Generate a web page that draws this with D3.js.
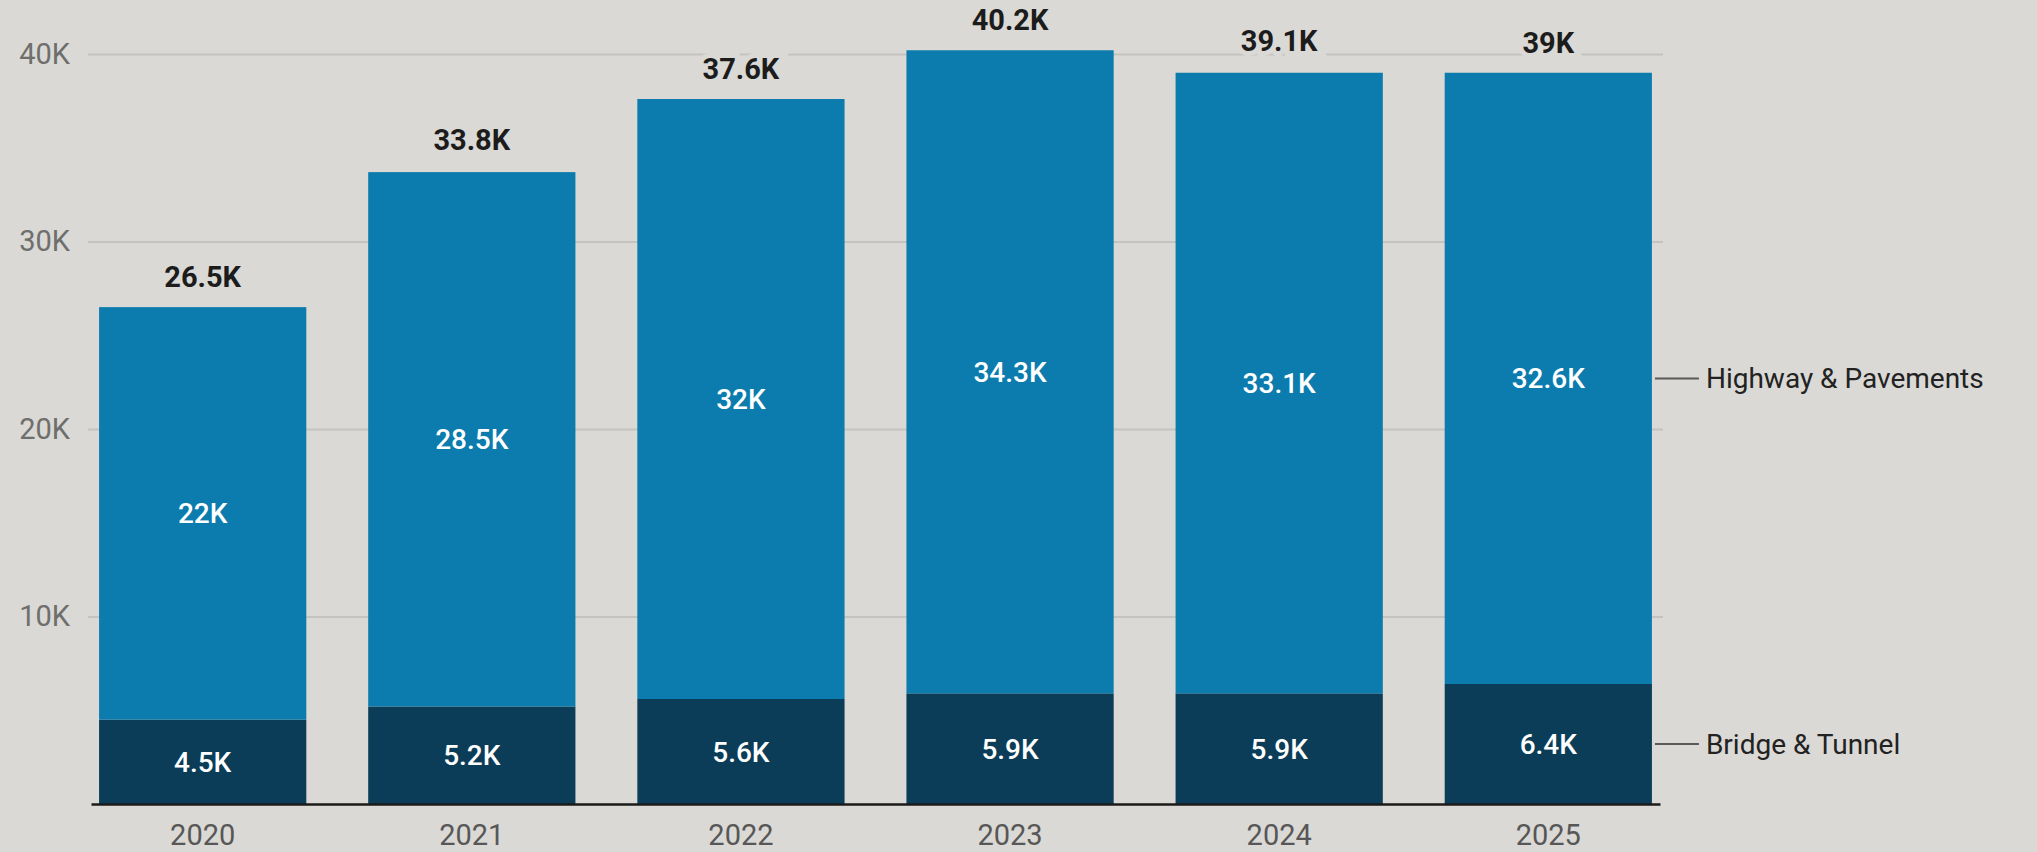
<!DOCTYPE html>
<html>
<head>
<meta charset="utf-8">
<script src="https://cdn.jsdelivr.net/npm/d3@7"></script>
<style>
    body { margin: 0; background: #dad9d5; }
    #wrapper text { font-family: Roboto, "Noto Sans", sans-serif; }
</style>
</head>
<body>
<div id="wrapper"></div>
<script>
// values, in thousands
const years = ["2020", "2021", "2022", "2023", "2024", "2025"];
const bridgeTunnel = [4.5, 5.2, 5.6, 5.9, 5.9, 6.4];
const highwayPavements = [22, 28.5, 32, 34.3, 33.1, 32.6];
const totals = [26.5, 33.8, 37.6, 40.2, 39.1, 39];
const seriesNames = ["Bridge & Tunnel", "Highway & Pavements"];
const yTicks = [10, 20, 30, 40];

function drawChart() {
    // 1. Data

    const data = years.map((year, i) => ({
        year,
        "Bridge & Tunnel": bridgeTunnel[i],
        "Highway & Pavements": highwayPavements[i],
        total: totals[i]
    }));
    const stacked = d3.stack().keys(seriesNames)(data);

    // 2. Dimensions

    const dimensions = {
        width: 2037,
        height: 852,
        margin: { top: 54, right: 377, bottom: 48, left: 91 }
    };
    dimensions.boundedWidth = dimensions.width
        - dimensions.margin.left
        - dimensions.margin.right;
    dimensions.boundedHeight = dimensions.height
        - dimensions.margin.top
        - dimensions.margin.bottom;

    // 3. Canvas

    const wrapper = d3.select("#wrapper")
        .append("svg")
        .attr("width", dimensions.width)
        .attr("height", dimensions.height);

    wrapper.append("rect")
        .attr("width", dimensions.width)
        .attr("height", dimensions.height)
        .attr("fill", "#dad9d5");

    const bounds = wrapper.append("g")
        .attr("transform", `translate(${dimensions.margin.left},${dimensions.margin.top})`);

    // 4. Scales

    const xScale = d3.scaleBand()
        .domain(years)
        .range([0, dimensions.boundedWidth])
        .paddingInner(0.23)
        .paddingOuter(0.03);

    const yScale = d3.scaleLinear()
        .domain([0, 40])
        .range([dimensions.boundedHeight, 0]);

    const colorScale = d3.scaleOrdinal()
        .domain(seriesNames)
        .range(["#0b3d58", "#0b7cad"]);

    // 5. Peripherals behind the bars

    const yAxisGenerator = d3.axisLeft(yScale)
        .tickValues(yTicks)
        .tickSize(-dimensions.boundedWidth - 6)
        .tickPadding(18)
        .tickFormat(d => d + "K");

    const yAxis = bounds.append("g")
        .attr("transform", "translate(-3,0)")
        .call(yAxisGenerator);
    yAxis.select(".domain").remove();
    yAxis.selectAll(".tick line")
        .attr("stroke", "#c3c3c0")
        .attr("stroke-width", 2);
    yAxis.selectAll(".tick text")
        .attr("fill", "#6e6e6c")
        .style("font-size", "29px");

    // 6. Bars

    const layers = bounds.selectAll(".layer")
        .data(stacked)
        .join("g")
        .attr("class", "layer")
        .attr("fill", d => colorScale(d.key));

    layers.selectAll("rect")
        .data(d => d)
        .join("rect")
        .attr("x", d => xScale(d.data.year))
        .attr("y", d => yScale(d[1]))
        .attr("width", xScale.bandwidth())
        .attr("height", d => yScale(d[0]) - yScale(d[1]));

    // segment labels
    layers.selectAll("text")
        .data(d => d.map(v => ({ v, key: d.key })))
        .join("text")
        .attr("x", d => xScale(d.v.data.year) + xScale.bandwidth() / 2)
        .attr("y", d => yScale((d.v[0] + d.v[1]) / 2))
        .attr("dy", "0.36em")
        .attr("text-anchor", "middle")
        .attr("fill", "#ffffff")
        .style("font-size", "28px")
        .style("font-weight", 500)
        .text(d => d.v.data[d.key] + "K");

    // totals on top
    bounds.append("g")
        .selectAll("text")
        .data(data)
        .join("text")
        .attr("x", d => xScale(d.year) + xScale.bandwidth() / 2)
        .attr("y", d => yScale(d.total) - 20)
        .attr("text-anchor", "middle")
        .attr("fill", "#1c1c1c")
        .attr("stroke", "#dad9d5")
        .attr("stroke-width", 10)
        .style("paint-order", "stroke")
        .style("font-size", "29px")
        .style("font-weight", 700)
        .text(d => d.total + "K");

    // x axis
    const xAxisGenerator = d3.axisBottom(xScale)
        .tickSize(0)
        .tickPadding(20);

    const xAxis = bounds.append("g")
        .attr("transform", `translate(0,${dimensions.boundedHeight})`)
        .call(xAxisGenerator);
    xAxis.select(".domain")
        .attr("stroke", "#1a1a1a")
        .attr("stroke-width", 2.5);
    xAxis.selectAll(".tick text")
        .attr("fill", "#575757")
        .style("font-size", "29px");

    // series labels at the right end
    const last = data.length - 1;
    const lastX = xScale(years[last]) + xScale.bandwidth();
    const legend = bounds.append("g")
        .selectAll("g")
        .data(stacked)
        .join("g")
        .attr("transform", d => `translate(${lastX},${yScale((d[last][0] + d[last][1]) / 2)})`);

    legend.append("line")
        .attr("x1", 3)
        .attr("x2", 47)
        .attr("stroke", "#5a5a5a")
        .attr("stroke-width", 2);

    legend.append("text")
        .attr("x", 54)
        .attr("dy", "0.36em")
        .attr("fill", "#222222")
        .style("font-size", "28px")
        .text(d => d.key);
}

drawChart();
</script>
</body>
</html>
